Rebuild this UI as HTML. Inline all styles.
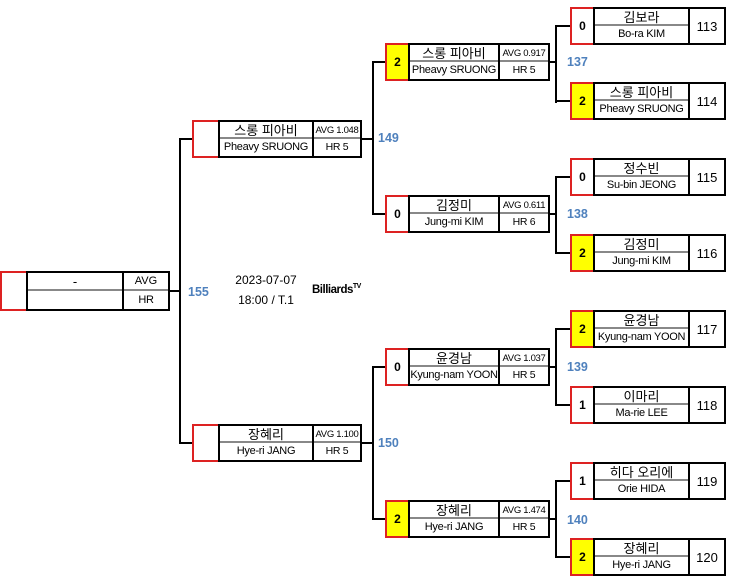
<!DOCTYPE html><html><head><meta charset="utf-8"><style>
body{margin:0;width:755px;height:585px;background:#fff;position:relative;overflow:hidden;font-family:"Liberation Sans","Noto Sans CJK KR",sans-serif;color:#000}
div{position:absolute;box-sizing:border-box;white-space:nowrap}
.s{border:2px solid #d22;font-weight:bold;font-size:12px;display:flex;align-items:center;justify-content:center}
.y{background:#ff0}
.n{border:2px solid #000;font-size:12px;text-align:center;overflow:hidden}
.n .t{position:absolute;left:0;right:0;top:0;height:17px;line-height:17px;font-size:13px;border-bottom:2px solid #888}
.n .b{position:absolute;left:0;right:0;bottom:0;height:17px;line-height:17px;font-size:11px;letter-spacing:-0.3px}
.a .t{font-size:9.5px;letter-spacing:-0.3px}.a .b{font-size:10.5px}
.num{border:2px solid #000;font-size:13px;display:flex;align-items:center;justify-content:center}
.h{height:2px;background:#000}.v{width:2px;background:#000}
.l{color:#4f81bd;font-weight:bold;font-size:12.5px}
</style></head><body>
<!-- level 3 -->
<div class="s" style="left:570px;top:7px;width:25px;height:38px">0</div><div class="n" style="left:593px;top:7px;width:97px;height:38px"><div class="t">김보라</div><div class="b">Bo-ra KIM</div></div><div class="num" style="left:688px;top:7px;width:38px;height:38px">113</div>
<div class="s y" style="left:570px;top:82px;width:25px;height:38px">2</div><div class="n" style="left:593px;top:82px;width:97px;height:38px"><div class="t">스롱 피아비</div><div class="b">Pheavy SRUONG</div></div><div class="num" style="left:688px;top:82px;width:38px;height:38px">114</div>
<div class="s" style="left:570px;top:158px;width:25px;height:38px">0</div><div class="n" style="left:593px;top:158px;width:97px;height:38px"><div class="t">정수빈</div><div class="b">Su-bin JEONG</div></div><div class="num" style="left:688px;top:158px;width:38px;height:38px">115</div>
<div class="s y" style="left:570px;top:234px;width:25px;height:38px">2</div><div class="n" style="left:593px;top:234px;width:97px;height:38px"><div class="t">김정미</div><div class="b">Jung-mi KIM</div></div><div class="num" style="left:688px;top:234px;width:38px;height:38px">116</div>
<div class="s y" style="left:570px;top:310px;width:25px;height:38px">2</div><div class="n" style="left:593px;top:310px;width:97px;height:38px"><div class="t">윤경남</div><div class="b">Kyung-nam YOON</div></div><div class="num" style="left:688px;top:310px;width:38px;height:38px">117</div>
<div class="s" style="left:570px;top:386px;width:25px;height:38px">1</div><div class="n" style="left:593px;top:386px;width:97px;height:38px"><div class="t">이마리</div><div class="b">Ma-rie LEE</div></div><div class="num" style="left:688px;top:386px;width:38px;height:38px">118</div>
<div class="s" style="left:570px;top:462px;width:25px;height:38px">1</div><div class="n" style="left:593px;top:462px;width:97px;height:38px"><div class="t">히다 오리에</div><div class="b">Orie HIDA</div></div><div class="num" style="left:688px;top:462px;width:38px;height:38px">119</div>
<div class="s y" style="left:570px;top:538px;width:25px;height:38px">2</div><div class="n" style="left:593px;top:538px;width:97px;height:38px"><div class="t">장혜리</div><div class="b">Hye-ri JANG</div></div><div class="num" style="left:688px;top:538px;width:38px;height:38px">120</div>
<!-- level 2 -->
<div class="s y" style="left:385px;top:43px;width:25px;height:38px">2</div><div class="n" style="left:408px;top:43px;width:92px;height:38px"><div class="t">스롱 피아비</div><div class="b">Pheavy SRUONG</div></div><div class="n a" style="left:498px;top:43px;width:52px;height:38px"><div class="t">AVG 0.917</div><div class="b">HR 5</div></div>
<div class="s" style="left:385px;top:195px;width:25px;height:38px">0</div><div class="n" style="left:408px;top:195px;width:92px;height:38px"><div class="t">김정미</div><div class="b">Jung-mi KIM</div></div><div class="n a" style="left:498px;top:195px;width:52px;height:38px"><div class="t">AVG 0.611</div><div class="b">HR 6</div></div>
<div class="s" style="left:385px;top:348px;width:25px;height:38px">0</div><div class="n" style="left:408px;top:348px;width:92px;height:38px"><div class="t">윤경남</div><div class="b">Kyung-nam YOON</div></div><div class="n a" style="left:498px;top:348px;width:52px;height:38px"><div class="t">AVG 1.037</div><div class="b">HR 5</div></div>
<div class="s y" style="left:385px;top:500px;width:25px;height:38px">2</div><div class="n" style="left:408px;top:500px;width:92px;height:38px"><div class="t">장혜리</div><div class="b">Hye-ri JANG</div></div><div class="n a" style="left:498px;top:500px;width:52px;height:38px"><div class="t">AVG 1.474</div><div class="b">HR 5</div></div>
<!-- level 1 -->
<div class="s" style="left:192px;top:120px;width:28px;height:38px"></div><div class="n" style="left:218px;top:120px;width:96px;height:38px"><div class="t">스롱 피아비</div><div class="b">Pheavy SRUONG</div></div><div class="n a" style="left:312px;top:120px;width:50px;height:38px"><div class="t">AVG 1.048</div><div class="b">HR 5</div></div>
<div class="s" style="left:192px;top:424px;width:28px;height:38px"></div><div class="n" style="left:218px;top:424px;width:96px;height:38px"><div class="t">장혜리</div><div class="b">Hye-ri JANG</div></div><div class="n a" style="left:312px;top:424px;width:50px;height:38px"><div class="t">AVG 1.100</div><div class="b">HR 5</div></div>
<!-- level 0 -->
<div class="s" style="left:0;top:271px;width:28px;height:40px"></div><div class="n" style="left:26px;top:271px;width:98px;height:40px"><div class="t" style="height:18px">-</div><div class="b">&nbsp;</div></div><div class="n" style="left:122px;top:271px;width:48px;height:40px"><div class="t" style="height:18px;font-size:11px">AVG</div><div class="b" style="font-size:11px">HR</div></div>
<!-- connectors L3 -->
<div class="h" style="left:550px;top:61px;width:7px"></div><div class="v" style="left:555px;top:26px;height:77px"></div><div class="h" style="left:555px;top:25px;width:15px"></div><div class="h" style="left:555px;top:100px;width:15px"></div>
<div class="h" style="left:550px;top:213px;width:7px"></div><div class="v" style="left:555px;top:177px;height:77px"></div><div class="h" style="left:555px;top:176px;width:15px"></div><div class="h" style="left:555px;top:252px;width:15px"></div>
<div class="h" style="left:550px;top:366px;width:7px"></div><div class="v" style="left:555px;top:329px;height:77px"></div><div class="h" style="left:555px;top:328px;width:15px"></div><div class="h" style="left:555px;top:404px;width:15px"></div>
<div class="h" style="left:550px;top:518px;width:7px"></div><div class="v" style="left:555px;top:481px;height:77px"></div><div class="h" style="left:555px;top:480px;width:15px"></div><div class="h" style="left:555px;top:556px;width:15px"></div>
<!-- L2 -->
<div class="h" style="left:362px;top:138px;width:12px"></div><div class="v" style="left:372px;top:61px;height:154px"></div><div class="h" style="left:372px;top:61px;width:13px"></div><div class="h" style="left:372px;top:213px;width:13px"></div>
<div class="h" style="left:362px;top:442px;width:12px"></div><div class="v" style="left:372px;top:366px;height:154px"></div><div class="h" style="left:372px;top:366px;width:13px"></div><div class="h" style="left:372px;top:518px;width:13px"></div>
<!-- L1 -->
<div class="h" style="left:170px;top:290px;width:11px"></div><div class="v" style="left:179px;top:138px;height:306px"></div><div class="h" style="left:179px;top:138px;width:13px"></div><div class="h" style="left:179px;top:442px;width:13px"></div>
<!-- labels -->
<div class="l" style="left:567px;top:55px">137</div><div class="l" style="left:567px;top:207px">138</div><div class="l" style="left:567px;top:360px">139</div><div class="l" style="left:567px;top:513px">140</div>
<div class="l" style="left:378px;top:131px">149</div><div class="l" style="left:378px;top:436px">150</div><div class="l" style="left:188px;top:285px">155</div>
<div style="left:226px;top:270px;font-size:12px;line-height:20px;text-align:center;width:80px">2023-07-07<br>18:00 / T.1</div>
<div style="left:312px;top:283px;font-size:11.5px;font-weight:bold;letter-spacing:-0.5px">Billiards<sup style="font-size:7px">TV</sup></div>
</body></html>
